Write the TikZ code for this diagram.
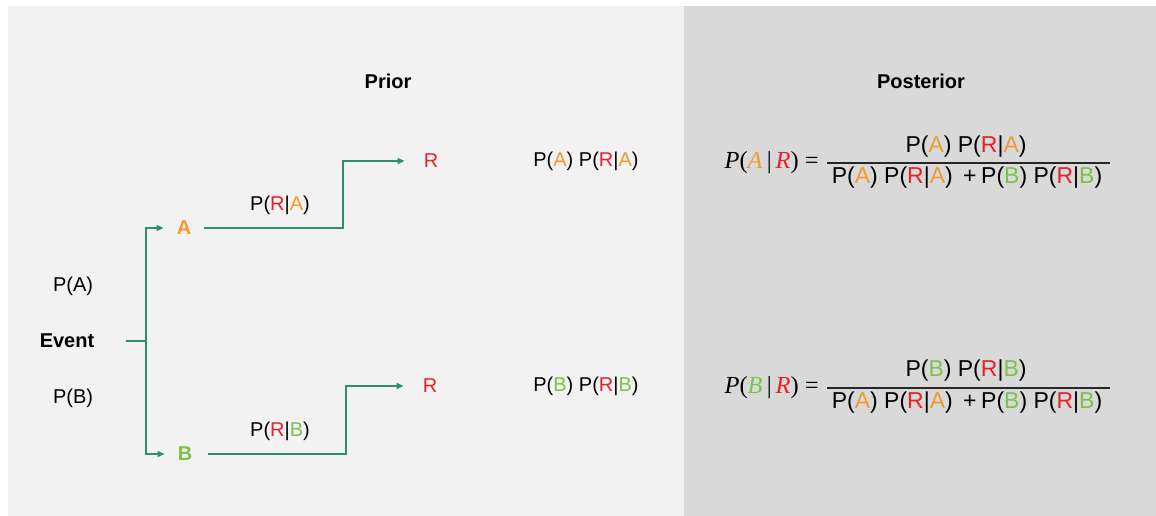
\documentclass[tikz,border=0pt]{standalone}
\usepackage{fontspec}
\setmainfont{Liberation Sans}
\newfontfamily\mathserif{Liberation Serif}
\usetikzlibrary{arrows.meta}

\definecolor{panelL}{HTML}{F2F2F2}
\definecolor{panelR}{HTML}{D9D9D9}
\definecolor{clrA}{HTML}{F39A2E}
\definecolor{clrR}{HTML}{E8212B}
\definecolor{clrB}{HTML}{7DC14B}
\definecolor{linkclr}{HTML}{2E8F70}

% coloured event letters
\newcommand{\ltrA}{\textcolor{clrA}{A}}
\newcommand{\ltrB}{\textcolor{clrB}{B}}
\newcommand{\ltrR}{\textcolor{clrR}{R}}
% posterior term in math style: italic letters, upright delimiters
\newcommand{\postterm}[2]{\textit{P}(\textit{\textcolor{#1}{#2}}\,|\,\textit{\textcolor{clrR}{R}}) =}

\begin{document}
\begin{tikzpicture}[x=1pt,y=-1pt,
  lbl/.style={font=\fontsize{20}{24}\selectfont, inner sep=0pt},
  boldlbl/.style={font=\fontsize{20}{24}\selectfont\bfseries, inner sep=0pt},
  frm/.style={font=\fontsize{23}{27}\selectfont, inner sep=0pt},
  frmleft/.style={font=\fontsize{24.5}{28}\selectfont\mathserif, inner sep=0pt, anchor=east},
  link/.style={draw=linkclr, line width=1.4pt},
  arrowlink/.style={link, -{Triangle[length=7pt,width=6pt]}},
  fracbar/.style={draw=black!85, line width=1.2pt}]

\useasboundingbox (0,0) rectangle (1156,516);
\fill[white] (0,0) rectangle (1156,516);
% two panels
\fill[panelL] (8,6) rectangle (684,516);
\fill[panelR] (684,6) rectangle (1156,516);

% headings
\node[boldlbl] (prior) at (388,81) {Prior};
\node[boldlbl] (post) at (921,81) {Posterior};

% tree nodes
\node[boldlbl] (event) at (67,341) {Event};
\node[lbl] (pa) at (73,286) {P(A)};
\node[lbl] (pb) at (73,398) {P(B)};
\node[boldlbl, text=clrA] (A) at (184,228) {A};
\node[boldlbl, text=clrB] (B) at (185,454) {B};
\node[lbl, text=clrR] (R1) at (431,161) {R};
\node[lbl, text=clrR] (R2) at (430,386) {R};
\node[lbl] (lkA) at (280,205) {P(\ltrR|\ltrA)};
\node[lbl] (lkB) at (280,431) {P(\ltrR|\ltrB)};
\node[lbl] (jointA) at (586,161) {P(\ltrA) P(\ltrR|\ltrA)};
\node[lbl] (jointB) at (586,386) {P(\ltrB) P(\ltrR|\ltrB)};

% branch points
\coordinate (split) at (146,341);
\coordinate (bendA) at (343,195);
\coordinate (bendB) at (346,420);

% connectors
\draw[link, shorten <=32pt] (event.east) -- (split);
\draw[arrowlink, shorten >=13pt] (split) |- (A.west);
\draw[arrowlink, shorten >=13pt] (split) |- (B.west);
\draw[arrowlink, shorten <=13pt, shorten >=19pt] (A.east) -- (A.east -| bendA) |- (R1.west);
\draw[arrowlink, shorten <=16pt, shorten >=19pt] (B.east) -- (B.east -| bendB) |- (R2.west);

% posterior of A
\node[frmleft] (postA) at (819,163) {\postterm{clrA}{A}};
\node[frm] (numA) at (966,147) {P(\ltrA) P(\ltrR|\ltrA)};
\node[frm] (denA) at (967,178) {P(\ltrA) P(\ltrR|\ltrA)\hspace{0.45em}+\hspace{0.2em}P(\ltrB) P(\ltrR|\ltrB)};
\coordinate (barAl) at (827,163);
\coordinate (barAr) at (1110,163);
\draw[fracbar] (barAl) -- (barAr);

% posterior of B
\node[frmleft] (postB) at (819,388) {\postterm{clrB}{B}};
\node[frm] (numB) at (966,371) {P(\ltrB) P(\ltrR|\ltrB)};
\node[frm] (denB) at (967,403) {P(\ltrA) P(\ltrR|\ltrA)\hspace{0.45em}+\hspace{0.2em}P(\ltrB) P(\ltrR|\ltrB)};
\coordinate (barBl) at (827,388);
\coordinate (barBr) at (1110,388);
\draw[fracbar] (barBl) -- (barBr);
\end{tikzpicture}
\end{document}
